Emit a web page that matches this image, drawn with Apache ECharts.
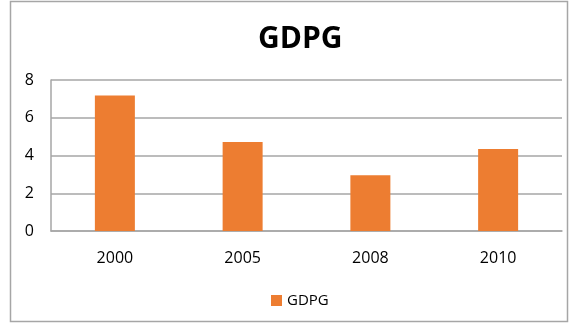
<!DOCTYPE html>
<html>
<head>
<meta charset="utf-8">
<script src="https://cdn.jsdelivr.net/npm/echarts@6/dist/echarts.min.js"></script>
<style>
  html, body { margin: 0; padding: 0; background: #fff; }
  #chart { width: 571px; height: 325px; }
</style>
</head>
<body>
<div id="chart"></div>
<script>
// GDP growth by year
const years = ['2000', '2005', '2008', '2010'];
const gdpg = [7.18, 4.72, 2.95, 4.35];
const yTicks = { min: 0, max: 8, interval: 2 };

const chart = echarts.init(document.getElementById('chart'));
const font = '"Open Sans", "Liberation Sans", sans-serif';

chart.setOption({
  animation: false,
  backgroundColor: '#fff',
  graphic: [{
    type: 'rect',
    shape: { x: 10.5, y: 1.5, width: 557, height: 320 },
    style: { fill: 'none', stroke: '#a6a6a6', lineWidth: 1.5 },
    silent: true
  }],
  title: {
    text: 'GDPG',
    left: 253,
    top: 19,
    textStyle: { fontFamily: font, fontWeight: 'bold', fontSize: 30, color: '#000' }
  },
  grid: { left: 51, right: 9, top: 80, bottom: 94, containLabel: false },
  xAxis: {
    type: 'category',
    data: years,
    axisLine: { lineStyle: { color: '#a6a6a6', width: 1.5 } },
    axisTick: { show: false },
    axisLabel: { fontFamily: font, fontSize: 16, color: '#000', margin: 19 }
  },
  yAxis: {
    type: 'value',
    min: yTicks.min,
    max: yTicks.max,
    interval: yTicks.interval,
    axisLine: { show: true, lineStyle: { color: '#a6a6a6', width: 1.5 } },
    axisTick: { show: false },
    splitLine: { lineStyle: { color: '#a6a6a6', width: 1.5 } },
    axisLabel: { fontFamily: font, fontSize: 16, color: '#000', margin: 17 }
  },
  legend: {
    top: 288,
    left: 266,
    itemWidth: 11,
    itemHeight: 11,
    icon: 'rect',
    itemGap: 6,
    textStyle: { fontFamily: font, fontSize: 15, color: '#000' }
  },
  series: [{
    name: 'GDPG',
    type: 'bar',
    data: gdpg,
    barWidth: 40,
    itemStyle: { color: '#ed7d31' }
  }]
});
</script>
</body>
</html>
